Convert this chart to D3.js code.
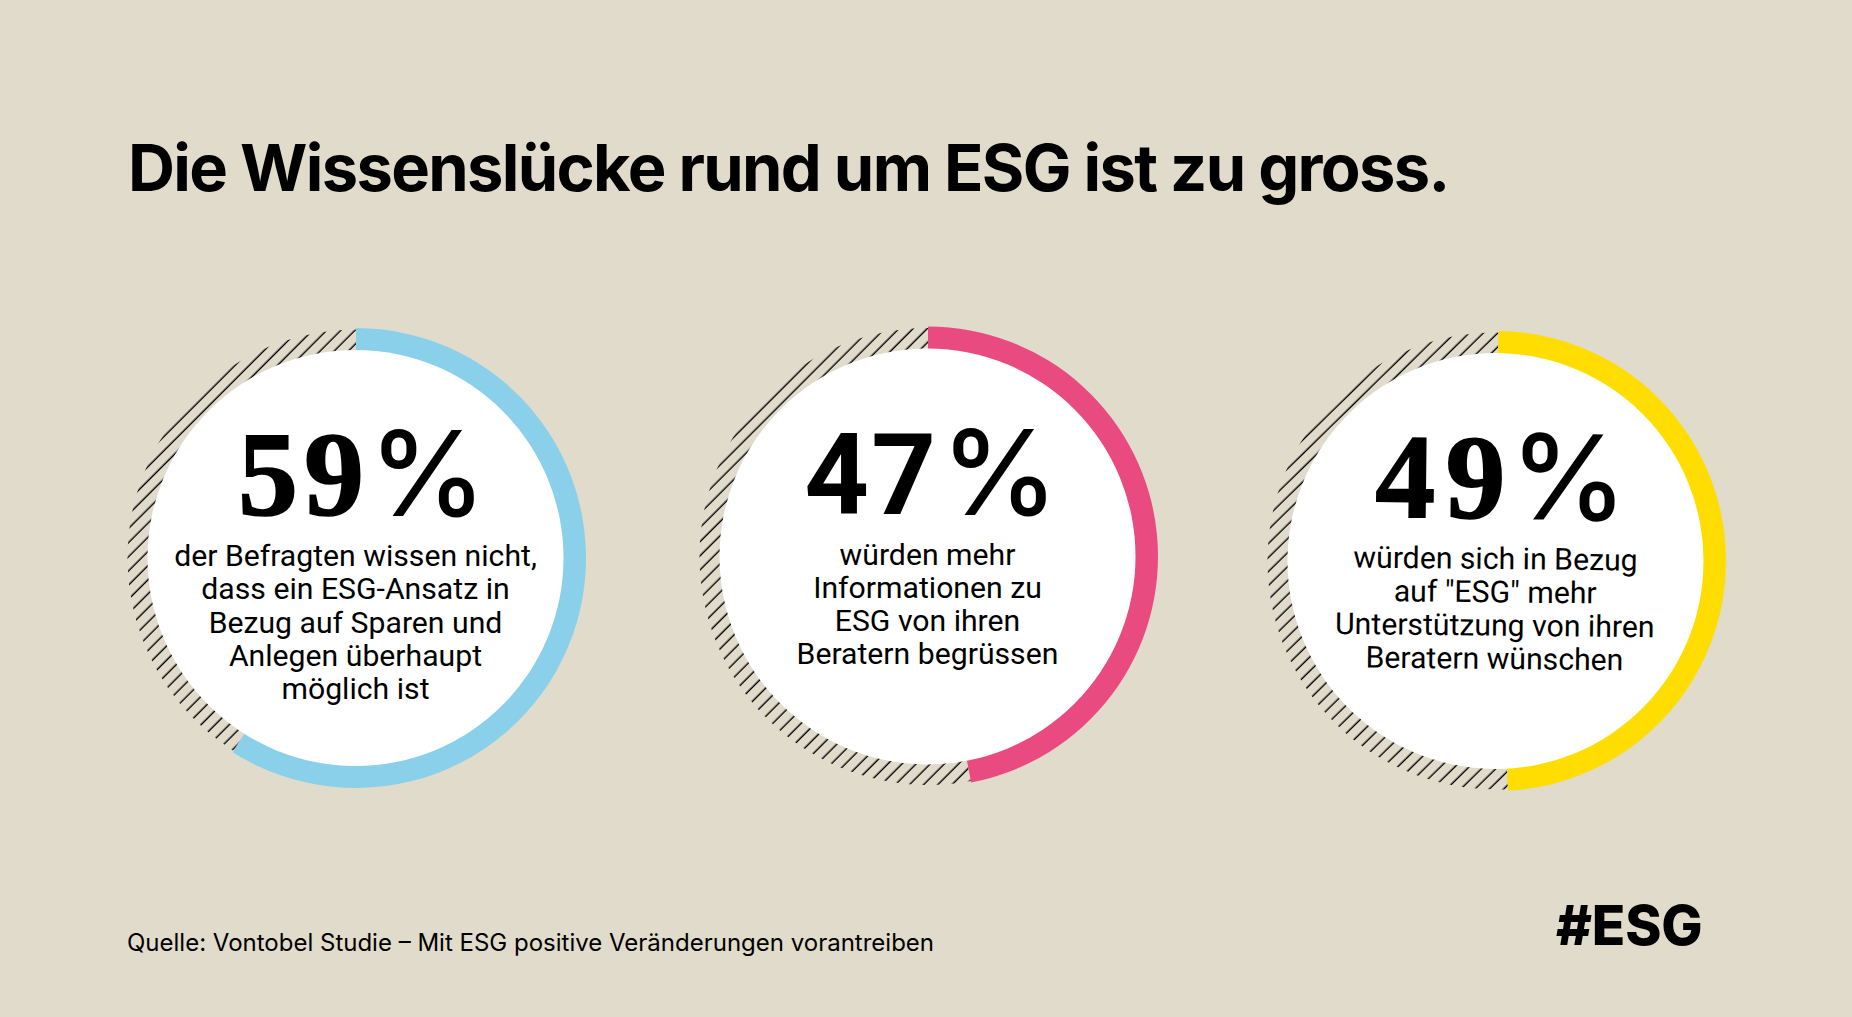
<!DOCTYPE html>
<html>
<head>
<meta charset="utf-8">
<script src="https://cdnjs.cloudflare.com/ajax/libs/d3/7.8.5/d3.min.js"></script>
<style>
  html, body { margin: 0; padding: 0; background: #e0dbca; }
  svg { display: block; }
</style>
</head>
<body>
<div id="chart"></div>
<script>
// values
var shares = [59, 47, 49];
var ringColors = ["#8bd0ea", "#e94b80", "#ffdd00"];
var captions = [
  ["der Befragten wissen nicht,", "dass ein ESG-Ansatz in", "Bezug auf Sparen und", "Anlegen überhaupt", "möglich ist"],
  ["würden mehr", "Informationen zu", "ESG von ihren", "Beratern begrüssen"],
  ["würden sich in Bezug", "auf \"ESG\" mehr", "Unterstützung von ihren", "Beratern wünschen"]
];
var titleText = "Die Wissenslücke rund um ESG ist zu gross.";
var sourceText = "Quelle: Vontobel Studie – Mit ESG positive Veränderungen vorantreiben";
var tagText = "#ESG";

var width = 1852, height = 1017;

// each circle sits a little off in the source picture
var centersX = [356, 928, 1496];
var centersY = [558, 556.5, 561];
var tilt = [0, 0, 0.6];
var numberFonts = ["'Liberation Serif'", "Roboto", "'Liberation Serif'"];
var numberSizes = [120, 113, 120];
var numberSpacing = [6, 2, 10];
var numberEnd = [14, 10, 18.5];
var numberStroke = [1.6, 0, 1.6];

var outerR = 230, hatchR = 228.5, innerR = 208;
var hatchStep = 10;

var svg = d3.select("#chart").append("svg")
  .attr("width", width)
  .attr("height", height);

svg.append("rect")
  .attr("width", width)
  .attr("height", height)
  .attr("fill", "#e0dbca");

var hatch = svg.append("defs").append("pattern")
  .attr("id", "hatch")
  .attr("patternUnits", "userSpaceOnUse")
  .attr("width", hatchStep)
  .attr("height", hatchStep)
  .attr("patternTransform", "rotate(45)");

hatch.append("line")
  .attr("x1", 8.3)
  .attr("x2", 8.3)
  .attr("y1", 0)
  .attr("y2", hatchStep)
  .attr("stroke", "#000")
  .attr("stroke-width", 1.4);

svg.append("text")
  .text(titleText)
  .attr("x", 128)
  .attr("y", 191)
  .attr("font-family", "Inter")
  .attr("font-weight", 700)
  .attr("font-size", 65)
  .attr("letter-spacing", -1.67)
  .attr("fill", "#000");

var arc = d3.arc()
  .innerRadius(innerR - 1)
  .outerRadius(outerR);

var hatchArc = d3.arc()
  .innerRadius(innerR - 1)
  .outerRadius(hatchR);

var pie = d3.pie().sort(null);

var groups = svg.selectAll("g.donut")
  .data(shares)
  .enter().append("g")
  .attr("class", "donut")
  .attr("transform", function(d, i) {
    return "translate(" + centersX[i] + "," + centersY[i] + ") rotate(" + tilt[i] + ")";
  });

groups.each(function(d, i) {
  var g = d3.select(this);
  var slices = pie([d, 100 - d]);

  g.append("path")
    .attr("d", hatchArc(slices[1]))
    .attr("fill", "url(#hatch)");

  g.append("path")
    .attr("d", arc(slices[0]))
    .attr("fill", ringColors[i]);

  g.append("circle")
    .attr("cx", -0.5)
    .attr("r", innerR)
    .attr("fill", "#fff");

  g.append("text")
    .text(d)
    .attr("x", numberEnd[i])
    .attr("y", -43)
    .attr("text-anchor", "end")
    .attr("font-family", numberFonts[i])
    .attr("font-weight", 700)
    .attr("font-size", numberSizes[i])
    .attr("letter-spacing", numberSpacing[i])
    .attr("stroke", "#000")
    .attr("stroke-width", numberStroke[i])
    .attr("fill", "#000");

  g.append("text")
    .text("%")
    .attr("x", 13)
    .attr("y", -42)
    .attr("font-family", "Inter")
    .attr("font-weight", 500)
    .attr("font-size", 118)
    .attr("fill", "#000");

  g.selectAll("text.caption")
    .data(captions[i])
    .enter().append("text")
    .attr("class", "caption")
    .text(function(t) { return t; })
    .attr("x", -0.5)
    .attr("y", function(t, j) { return 8 + j * 33.3; })
    .attr("text-anchor", "middle")
    .attr("font-family", "Roboto")
    .attr("font-size", 30.2)
    .attr("fill", "#000");
});

svg.append("text")
  .text(sourceText)
  .attr("x", 127)
  .attr("y", 951)
  .attr("font-family", "Inter")
  .attr("font-size", 24)
  .attr("fill", "#000");

svg.append("text")
  .text(tagText)
  .attr("x", 1556)
  .attr("y", 945)
  .attr("font-family", "Inter")
  .attr("font-weight", 800)
  .attr("font-size", 55)
  .attr("letter-spacing", -0.2)
  .attr("fill", "#000");
</script>
</body>
</html>
